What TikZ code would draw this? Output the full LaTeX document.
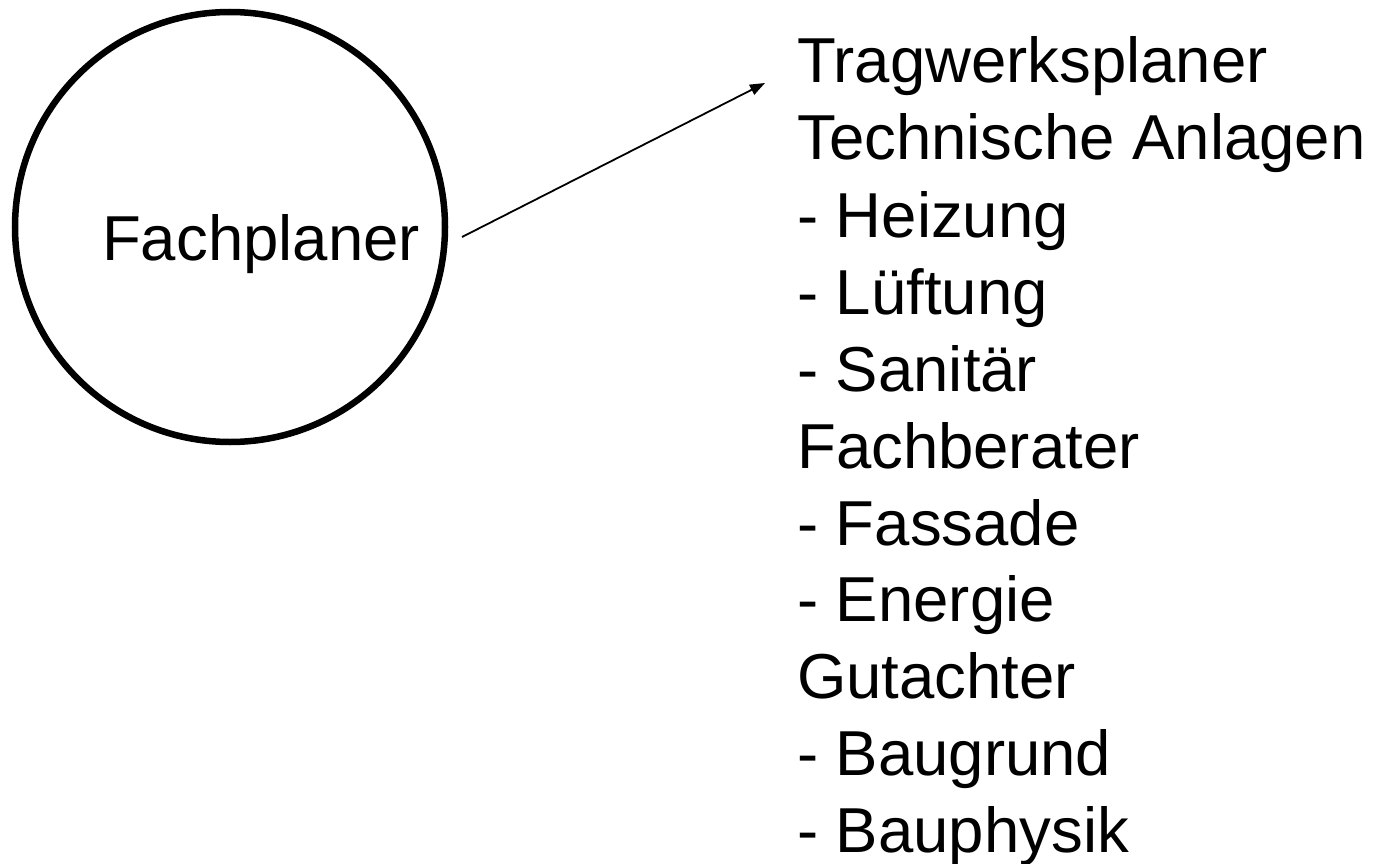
\documentclass[tikz,border=0pt]{standalone}
\usepackage{fontspec}
\setmainfont{Liberation Sans}
\usetikzlibrary{arrows.meta}
\begin{document}
\begin{tikzpicture}[x=1pt,y=-1pt,
  bigtext/.style={inner sep=0pt,font=\fontsize{63.5}{76}\selectfont},
  listline/.style={bigtext,anchor=base west},
  planer/.style={circle,draw,line width=6.5pt,minimum size=430pt,inner sep=0pt},
  link/.style={line width=1.8pt,-{Triangle[length=15pt,width=11pt]}}]
  \useasboundingbox (0,0) rectangle (1381,864);
  % role circle
  \node[planer] (fp) at (230,227) {};
  \node[bigtext,anchor=base] (fptext) at (261,260) {Fachplaner};
  % list of specialist planners
  \node[listline] (l1)  at (797,83)  {Tragwerksplaner};
  \node[listline] (l2)  at (797,160) {Technische Anlagen};
  \node[listline] (l3)  at (797,237) {- Heizung};
  \node[listline] (l4)  at (797,314) {- Lüftung};
  \node[listline] (l5)  at (797,391) {- Sanitär};
  \node[listline] (l6)  at (797,468) {Fachberater};
  \node[listline] (l7)  at (797,545) {- Fassade};
  \node[listline] (l8)  at (797,621) {- Energie};
  \node[listline] (l9)  at (797,698) {Gutachter};
  \node[listline] (l10) at (797,775) {- Baugrund};
  \node[listline] (l11) at (797,852) {- Bauphysik};
  % connector from the circle to the list
  \coordinate (from) at (462,237);
  \coordinate (to) at (765,83);
  \draw[link] (from) -- (to);
\end{tikzpicture}
\end{document}
